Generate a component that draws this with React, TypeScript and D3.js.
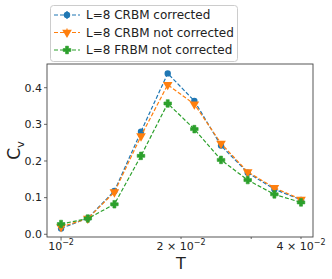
import React from 'react';
import * as d3 from 'd3';

const temps = [0.01, 0.01167, 0.01361, 0.01587, 0.01852, 0.0216, 0.0252, 0.0294, 0.0343, 0.04];
const crbmCorrected = [0.016, 0.044, 0.118, 0.280, 0.439, 0.364, 0.242, 0.168, 0.123, 0.094];
const crbmNotCorrected = [0.020, 0.043, 0.115, 0.268, 0.408, 0.355, 0.248, 0.170, 0.127, 0.095];
const frbmNotCorrected = [0.028, 0.043, 0.082, 0.214, 0.357, 0.287, 0.203, 0.148, 0.109, 0.087];

const yTicks = [0.0, 0.1, 0.2, 0.3, 0.4];
const xMajor = [0.01, 0.02, 0.04];
const xMajorLabels = ['', '2 × ', '4 × '];
const xMinor = [0.03];

const seriesNames = ['L=8 CRBM corrected', 'L=8 CRBM not corrected', 'L=8 FRBM not corrected'];
const seriesColors = ['#1f77b4', '#ff7f0e', '#2ca02c'];
const seriesValues = [crbmCorrected, crbmNotCorrected, frbmNotCorrected];

const W = 332;
const H = 279;
const plot = { left: 47, right: 313, top: 64, bottom: 237 };
const FONT = 'DejaVu Sans, sans-serif';

// filled plus, like matplotlib 'P'
const plusPath = (() => {
    const a = 3.8, b = 1.5;
    return `M${-b},${-a}L${b},${-a}L${b},${-b}L${a},${-b}L${a},${b}L${b},${b}L${b},${a}L${-b},${a}L${-b},${b}L${-a},${b}L${-a},${-b}L${-b},${-b}Z`;
})();

const Marker: React.FC<{ i: number; x: number; y: number }> = ({ i, x, y }) => {
    let path = '';
    if (i === 0) path = d3.symbol().type(d3.symbolCircle).size(32)() || '';
    else if (i === 1) path = d3.symbol().type(d3.symbolTriangle).size(40)() || '';
    else path = plusPath;
    const rot = i === 1 ? 180 : 0;
    return (
        <path d={path} transform={`translate(${x},${y}) rotate(${rot})`} fill={seriesColors[i]}
            stroke={i === 2 ? seriesColors[i] : 'none'} strokeWidth={0.6} strokeLinejoin="round" />
    );
};

const App: React.FC = () => {
    const x = d3.scaleLog().domain([0.00922, 0.04287]).range([plot.left, plot.right]);
    const y = d3.scaleLinear().domain([-0.0074, 0.4647]).range([plot.bottom, plot.top]);

    const line = d3.line<number>()
        .x((_, i) => x(temps[i]))
        .y(d => y(d));

    return (
        <svg width={W} height={H} style={{ position: 'fixed', left: 0, top: 0, background: '#fff' }} fontFamily={FONT}>
            {/* frame */}
            <rect x={plot.left} y={plot.top} width={plot.right - plot.left} height={plot.bottom - plot.top}
                fill="none" stroke="#444" strokeWidth={0.9} />

            {/* y ticks */}
            {yTicks.map(t => (
                <g key={t}>
                    <line x1={plot.left - 3} x2={plot.left} y1={y(t)} y2={y(t)} stroke="#444" strokeWidth={0.8} />
                    <text x={plot.left - 5} y={y(t)} dy="0.35em" textAnchor="end" fontSize="11px" fill="#222">
                        {t.toFixed(1)}
                    </text>
                </g>
            ))}

            {/* x ticks */}
            {xMajor.map((t, i) => (
                <g key={t}>
                    <line x1={x(t)} x2={x(t)} y1={plot.bottom} y2={plot.bottom + (i === 0 ? 3.5 : 2)} stroke="#444" strokeWidth={0.8} />
                    <text x={x(t)} y={plot.bottom + 13} textAnchor="middle" fontSize="11px" fill="#222">
                        {xMajorLabels[i]}10<tspan fontSize="8px" dy="-5">−2</tspan>
                    </text>
                </g>
            ))}
            {xMinor.map(t => (
                <line key={t} x1={x(t)} x2={x(t)} y1={plot.bottom} y2={plot.bottom + 2} stroke="#444" strokeWidth={0.8} />
            ))}

            {/* axis labels */}
            <text x={(plot.left + plot.right) / 2 + 1} y={269} textAnchor="middle" fontSize="16px" fill="#222">T</text>
            <text transform={`translate(20,${(plot.top + plot.bottom) / 2}) rotate(-90)`} textAnchor="middle" fontSize="17px" fill="#222">
                C<tspan fontSize="11px" dy="4">v</tspan>
            </text>

            {/* series */}
            {seriesValues.map((vals, s) => (
                <g key={s}>
                    <path d={line(vals) || ''} fill="none" stroke={seriesColors[s]} strokeWidth={1.2} strokeDasharray="4,2" />
                    {vals.map((v, i) => (
                        <Marker key={i} i={s} x={x(temps[i])} y={y(v)} />
                    ))}
                </g>
            ))}

            {/* legend */}
            <g>
                <rect x={50.5} y={5.5} width={187} height={56} rx={3} fill="#fff" fillOpacity={0.8} stroke="#ccc" strokeWidth={1} />
                {seriesNames.map((name, s) => {
                    const ly = 15 + s * 17.5;
                    return (
                        <g key={name}>
                            <line x1={54} x2={80} y1={ly} y2={ly} stroke={seriesColors[s]} strokeWidth={1.2} strokeDasharray="4,2" />
                            <line x1={67} x2={67} y1={ly - 4} y2={ly + 4} stroke={seriesColors[s]} strokeWidth={1.2} />
                            <Marker i={s} x={67} y={ly} />
                            <text x={86} y={ly} dy="0.35em" fontSize="12px" fill="#222">{name}</text>
                        </g>
                    );
                })}
            </g>
        </svg>
    );
};

export default App;
